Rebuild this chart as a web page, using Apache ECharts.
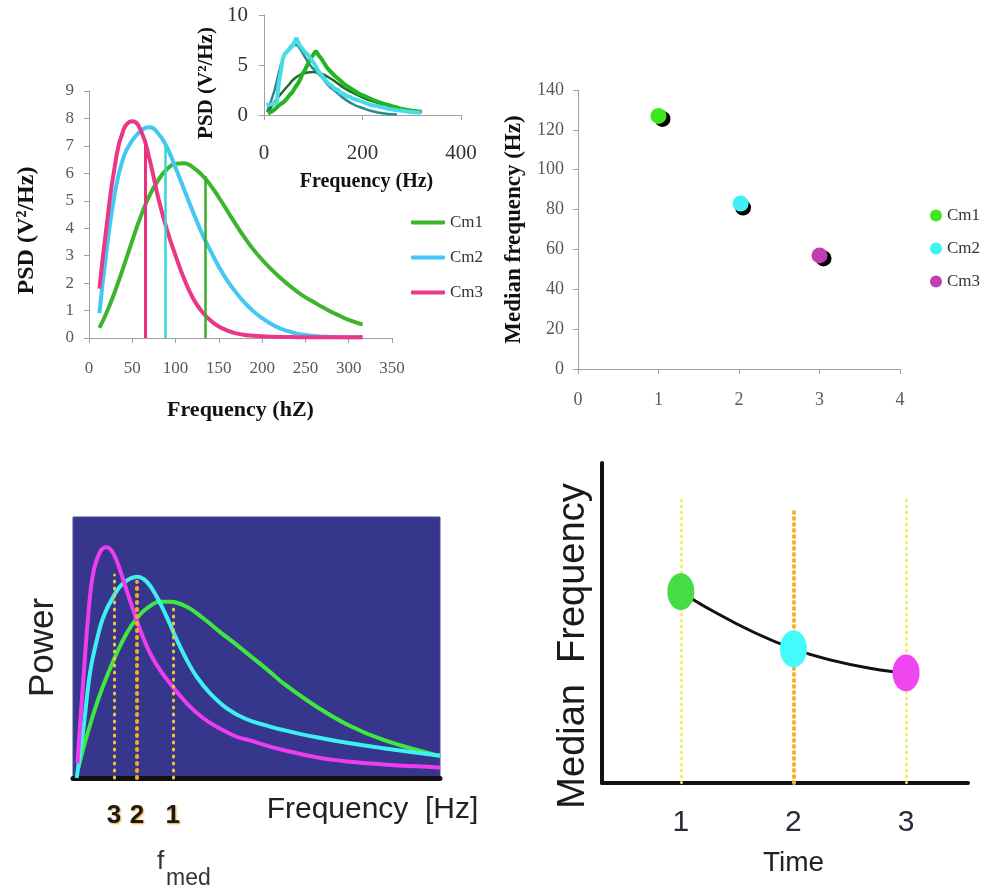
<!DOCTYPE html>
<html><head><meta charset="utf-8">
<script src="https://cdn.jsdelivr.net/npm/echarts@6/dist/echarts.min.js"></script>
<style>html,body{margin:0;padding:0;background:#fff}#c{width:990px;height:892px}</style>
</head><body><div id="c"></div>
<script>
// ---------- Panel A: PSD curves ----------
const freqA = [12,20,30,40,50,60,70,80,90,100,110,120,130,140,150,160,170,180,190,200,210,220,230,240,250,260,270,280,290,300,316];
const psdCm1 = [0.37,0.9,1.7,2.6,3.55,4.45,5.2,5.75,6.15,6.35,6.37,6.22,5.95,5.58,5.12,4.62,4.12,3.65,3.22,2.85,2.52,2.22,1.95,1.7,1.48,1.3,1.12,0.95,0.8,0.66,0.49];
const psdCm2 = [0.9,3.1,5.3,6.6,7.2,7.55,7.68,7.45,6.95,6.2,5.4,4.6,3.85,3.2,2.6,2.08,1.65,1.28,0.97,0.72,0.52,0.36,0.25,0.16,0.11,0.07,0.05,0.04,0.03,0.03,0.03];
const psdCm3 = [1.8,4.0,6.3,7.6,7.9,7.55,6.5,5.1,3.95,3.0,2.15,1.46,0.98,0.65,0.42,0.27,0.17,0.11,0.08,0.06,0.05,0.04,0.04,0.03,0.03,0.03,0.03,0.03,0.03,0.03,0.03];
const namesA = ['Cm1','Cm2','Cm3'];
const medianFreqA = [134.7, 88.4, 64.8];
const medianTopA = [5.9, 7.1, 7.2];

// ---------- Inset: measured vs fitted ----------
const insetCm2Raw = [[5,1.0],[12,1.05],[20,1.1],[26,1.3],[30,3.2],[34,4.3],[38,5.6],[42,6.1],[46,6.2],[50,6.5],[54,6.6],[58,6.9],[62,7.1],[66,7.7],[68,7.5],[72,7.0],[76,6.8],[80,6.5],[85,6.2],[90,6.0],[95,5.6],[100,5.3],[105,4.9],[110,4.4],[115,4.1],[120,3.8],[126,3.4],[132,3.1],[138,2.9],[144,2.6],[150,2.5],[156,2.2],[162,2.1],[168,1.9],[175,1.8],[182,1.6],[190,1.5],[198,1.35],[206,1.2],[214,1.05],[222,0.95],[230,0.9],[238,0.8],[246,0.72],[254,0.6],[262,0.55],[270,0.48],[278,0.45],[286,0.38],[294,0.33],[302,0.3],[310,0.25],[318,0.22]];
const insetCm2Fit = [[6,0.3],[15,1.5],[22,2.6],[30,4.2],[35,5.1],[42,6.0],[50,6.6],[58,7.0],[65,7.0],[72,6.7],[83,5.8],[95,4.9],[105,4.4],[117,3.8],[130,3.0],[150,2.15],[165,1.55],[184,1.0],[200,0.7],[218,0.4],[235,0.22],[252,0.1],[270,0.05]];
const insetCm1Raw = [[8,0.17],[14,0.3],[20,0.5],[28,0.85],[34,1.1],[40,1.3],[46,1.6],[52,2.0],[58,2.3],[64,2.8],[69,3.15],[74,3.6],[78,4.1],[83,4.5],[88,5.0],[93,5.5],[97,5.6],[101,6.1],[105,6.4],[108,6.2],[112,5.9],[117,5.6],[122,5.2],[127,4.8],[132,4.5],[138,4.2],[144,3.9],[150,3.65],[156,3.4],[162,3.1],[170,2.85],[178,2.6],[186,2.35],[194,2.1],[202,1.95],[211,1.75],[220,1.55],[228,1.4],[236,1.25],[244,1.1],[252,1.0],[260,0.88],[268,0.78],[276,0.66],[286,0.56],[294,0.48],[302,0.42],[310,0.37],[320,0.33]];
const insetCm1Fit = [[8,0.3],[20,1.2],[35,2.15],[50,3.0],[62,3.65],[75,4.05],[88,4.25],[100,4.3],[115,4.15],[130,3.8],[147,3.25],[164,2.65],[185,2.1],[205,1.65],[228,1.25],[252,0.9],[280,0.6],[300,0.45],[320,0.33]];

// ---------- Panel B: median frequency scatter ----------
const condB = [1.0, 2.02, 3.0];
const medianB = [127, 83, 57];
const shadowCondB = [1.05, 2.05, 3.05];
const shadowMedianB = [125.5, 81, 55.5];
const namesB = ['Cm1','Cm2','Cm3'];

// ---------- Panel C: schematic power spectra ----------
const specC3 = [[1.2,5.6],[2.8,37.5],[4.2,63],[5.5,78.4],[7.4,86.7],[9.2,88.4],[11,86],[12.8,79.7],[14.6,72],[16.4,64.4],[18.3,56.7],[21,47.8],[23.7,41.4],[26.4,36.3],[31,28.6],[35.5,22.9],[40,19],[44.6,15.8],[48.2,14.4],[53.7,12],[57.3,10.7],[66.4,7.9],[75.5,6.2],[84.6,5.2],[98.6,4.1],[100,4.0]];
const specC2 = [[1,0],[2.8,18.4],[4.6,40],[6.5,52.9],[8.3,61.8],[11,69.5],[13.7,74.6],[17.4,77.1],[20.1,75.2],[22.8,69.5],[25.5,61.8],[28.3,52.9],[31,45.2],[33.7,38.8],[37.3,32.5],[41.9,26.7],[47.3,22.5],[53.7,19.7],[57.3,18.4],[66.4,15.6],[75.5,13.3],[84.6,11.4],[98.6,8.8],[100,8.6]];
const specC1 = [[1.4,3.7],[3.7,15.8],[6.5,28.6],[9.2,38.8],[11.9,47.8],[14.6,55.4],[17.4,61.2],[20.1,65],[23.7,67.5],[26.4,67.5],[31,65.6],[35.5,61.2],[40,56],[44.6,51],[49.1,45.9],[53.7,40.6],[57.3,36.3],[66.4,27.3],[75.5,19.9],[84.6,14.6],[98.6,8.8],[100,8.4]];
const medFreqC = [11.2, 17.4, 27.2];
const medTopC = [77.8, 75.2, 65];
const medLabelC = ['3','2','1'];

// ---------- Panel D: median frequency over time ----------
const timeD = [1, 2, 3];
const medianD = [5.98, 4.19, 3.44];
const guideTopD = [8.94, 8.6, 8.94];

const serif = 'Liberation Serif';
const sans = 'Liberation Sans';
const zip = (xs, ys) => xs.map((x, i) => [x, ys[i]]);

const colA = ['#3cb52d', '#42c8f2', '#ec3687'];
const colAmed = ['#36b02a', '#3ad6d0', '#e8327e'];
const colB = ['#3ee61e', '#3ff0f5', '#c23db0'];
const colC = ['#3ee83e', '#3ef0f0', '#f03cf0'];
const colD = ['#44dd44', '#44fbfb', '#f046f0'];

const grayAxis = {lineStyle: {color: '#a0a0a0', width: 1}};
const grayTick = {show: true, length: 5, lineStyle: {color: '#a0a0a0'}};

const series = [];
// Panel A
[psdCm1, psdCm2, psdCm3].forEach((arr, i) => {
  series.push({
    name: namesA[i], type: 'line', xAxisIndex: 0, yAxisIndex: 0,
    data: zip(freqA, arr), smooth: 0.5, showSymbol: false, symbol: 'none',
    itemStyle: {color: colA[i]}, lineStyle: {color: colA[i], width: 4},
    markLine: {silent: true, symbol: 'none', label: {show: false},
      lineStyle: {color: colAmed[i], width: i === 2 ? 3 : 2.5, type: 'solid'},
      data: [[{coord: [medianFreqA[i], 0]}, {coord: [medianFreqA[i], medianTopA[i]]}]]}
  });
});
// Inset
series.push({name: 'Cm1 fit', type: 'line', xAxisIndex: 1, yAxisIndex: 1, data: insetCm1Fit, smooth: 0.5, symbol: 'none', lineStyle: {color: '#1f6a24', width: 2.5}});
series.push({name: 'Cm2 fit', type: 'line', xAxisIndex: 1, yAxisIndex: 1, data: insetCm2Fit, smooth: 0.5, symbol: 'none', lineStyle: {color: '#2a8a8c', width: 2.5}});
series.push({name: 'Cm1 raw', type: 'line', xAxisIndex: 1, yAxisIndex: 1, data: insetCm1Raw, symbol: 'none', lineStyle: {color: '#22b422', width: 4}});
series.push({name: 'Cm2 raw', type: 'line', xAxisIndex: 1, yAxisIndex: 1, data: insetCm2Raw, symbol: 'none', lineStyle: {color: '#48dce8', width: 4}});
// Panel B
series.push({name: 'shadow', type: 'scatter', xAxisIndex: 2, yAxisIndex: 2, data: zip(shadowCondB, shadowMedianB), symbolSize: 16, itemStyle: {color: '#000', opacity: 1}, z: 2});
namesB.forEach((n, i) => {
  series.push({name: n + '|B', type: 'scatter', xAxisIndex: 2, yAxisIndex: 2, data: [[condB[i], medianB[i]]], symbolSize: 16, itemStyle: {color: colB[i], opacity: 1}, z: 3});
});
// Panel C
[specC1, specC2, specC3].forEach((arr, i) => {
  series.push({name: 'spec' + (i + 1), type: 'line', xAxisIndex: 3, yAxisIndex: 3, data: arr, smooth: 0.4, symbol: 'none', lineStyle: {color: colC[i], width: 4}, z: 2});
});
series.push({name: 'medC', type: 'line', xAxisIndex: 3, yAxisIndex: 3, data: zip(medFreqC, medTopC), symbol: 'none', lineStyle: {opacity: 0}, z: 4,
  markLine: {silent: true, symbol: 'none', label: {show: false},
    data: medFreqC.map((f, i) => [{coord: [f, 0], lineStyle: {color: i === 1 ? '#f2aa2a' : '#f3c63a', width: i === 1 ? 4 : 3, type: [1, 6], cap: 'round'}}, {coord: [f, medTopC[i]]}])}
});
// Panel D
series.push({name: 'trend', type: 'line', xAxisIndex: 4, yAxisIndex: 4, data: zip(timeD, medianD), smooth: true, symbol: 'none', lineStyle: {color: '#111', width: 3}, z: 3,
  markLine: {silent: true, symbol: 'none', label: {show: false},
    data: timeD.map((t, i) => [{coord: [t, 0], lineStyle: {color: i === 1 ? '#f7b02a' : '#f5ec3a', width: i === 1 ? 4 : 2.5, type: [1, 5], cap: 'round'}}, {coord: [t, guideTopD[i]]}])}
});
series.push({name: 'pointsD', type: 'scatter', xAxisIndex: 4, yAxisIndex: 4, z: 5, symbol: 'circle', symbolSize: [27, 37],
  data: timeD.map((t, i) => ({value: [t, medianD[i]], itemStyle: {color: colD[i], opacity: 1}}))});

const option = {
  backgroundColor: '#ffffff',
  animation: false,
  grid: [
    {left: 89, top: 91, width: 303, height: 247},
    {left: 264, top: 15, width: 197, height: 100},
    {left: 578, top: 90, width: 322, height: 279},
    {left: 73, top: 517, width: 367, height: 261, show: true, backgroundColor: '#35368c', borderColor: '#4a4a9a', borderWidth: 1},
    {left: 602, top: 463, width: 366, height: 320}
  ],
  xAxis: [
    {gridIndex: 0, type: 'value', min: 0, max: 350, interval: 50, axisLine: grayAxis, axisTick: grayTick, splitLine: {show: false},
      axisLabel: {fontFamily: serif, fontSize: 17, color: '#595959', margin: 22},
      name: 'Frequency (hZ)', nameLocation: 'middle', nameGap: 61, nameMoveOverlap: false,
      nameTextStyle: {fontFamily: serif, fontWeight: 'bold', fontSize: 22, color: '#111'}},
    {gridIndex: 1, type: 'value', min: 0, max: 400, interval: 200, axisLine: grayAxis, axisTick: grayTick, splitLine: {show: false},
      axisLabel: {fontFamily: serif, fontSize: 21, color: '#333', margin: 28},
      name: 'Frequency (Hz)', nameLocation: 'middle', nameGap: 57, nameMoveOverlap: false,
      nameTextStyle: {fontFamily: serif, fontWeight: 'bold', fontSize: 20, color: '#111', padding: [0, 0, 0, 8]}},
    {gridIndex: 2, type: 'value', min: 0, max: 4, interval: 1, axisLine: grayAxis, axisTick: grayTick, splitLine: {show: false},
      axisLabel: {fontFamily: serif, fontSize: 18, color: '#595959', margin: 22}},
    {gridIndex: 3, type: 'value', min: 0, max: 100, splitLine: {show: false},
      axisLine: {show: true, lineStyle: {color: '#111', width: 5}}, axisTick: {show: false},
      axisLabel: {customValues: medFreqC, margin: 25,
        formatter: v => { const i = medFreqC.findIndex(f => Math.abs(f - v) < 0.01); return i >= 0 ? medLabelC[i] : ''; },
        fontFamily: sans, fontWeight: 'bold', fontSize: 26, color: '#1a1a1a', textShadowColor: '#f0a020', textShadowBlur: 2, textShadowOffsetX: 1, textShadowOffsetY: 1},
      name: 'Frequency  [Hz]', nameLocation: 'middle', nameGap: 17, nameMoveOverlap: false,
      nameTextStyle: {fontFamily: sans, fontSize: 30, color: '#222', padding: [0, 0, 0, 232]}},
    {gridIndex: 4, type: 'value', min: 0.3, max: 3.55, splitLine: {show: false},
      axisLine: {show: true, lineStyle: {color: '#111', width: 4}}, axisTick: {show: false},
      axisLabel: {customValues: timeD, margin: 25, fontFamily: sans, fontSize: 30, color: '#2a2a3a'},
      name: 'Time', nameLocation: 'middle', nameGap: 66, nameMoveOverlap: false,
      nameTextStyle: {fontFamily: sans, fontSize: 28, color: '#222', padding: [0, 0, 0, 17]}}
  ],
  yAxis: [
    {gridIndex: 0, type: 'value', min: 0, max: 9, interval: 1, axisLine: Object.assign({show: true}, grayAxis), axisTick: grayTick, splitLine: {show: false},
      axisLabel: {fontFamily: serif, fontSize: 17, color: '#595959', margin: 15},
      name: 'PSD (V²/Hz)', nameLocation: 'middle', nameRotate: 90, nameGap: 50, nameMoveOverlap: false,
      nameTextStyle: {fontFamily: serif, fontWeight: 'bold', fontSize: 24, color: '#111', padding: [0, 32, 0, 0]}},
    {gridIndex: 1, type: 'value', min: 0, max: 10, interval: 5, axisLine: Object.assign({show: true}, grayAxis), axisTick: grayTick, splitLine: {show: false},
      axisLabel: {fontFamily: serif, fontSize: 21, color: '#333', margin: 16},
      name: 'PSD (V²/Hz)', nameLocation: 'middle', nameRotate: 90, nameGap: 47, nameMoveOverlap: false,
      nameTextStyle: {fontFamily: serif, fontWeight: 'bold', fontSize: 21, color: '#111', padding: [0, 36, 0, 0]}},
    {gridIndex: 2, type: 'value', min: 0, max: 140, interval: 20, axisLine: Object.assign({show: true}, grayAxis), axisTick: grayTick, splitLine: {show: false},
      axisLabel: {fontFamily: serif, fontSize: 18, color: '#595959', margin: 14},
      name: 'Median frequency (Hz)', nameLocation: 'middle', nameRotate: 90, nameGap: 52, nameMoveOverlap: false,
      nameTextStyle: {fontFamily: serif, fontWeight: 'bold', fontSize: 23, color: '#111'}},
    {gridIndex: 3, type: 'value', min: 0, max: 100, axisLine: {show: false}, axisTick: {show: false}, axisLabel: {show: false}, splitLine: {show: false},
      name: 'Power', nameLocation: 'middle', nameRotate: 90, nameGap: 12, nameMoveOverlap: false,
      nameTextStyle: {fontFamily: sans, fontSize: 35, color: '#222'}},
    {gridIndex: 4, type: 'value', min: 0, max: 10, axisLine: {show: true, lineStyle: {color: '#111', width: 4}}, axisTick: {show: false}, axisLabel: {show: false}, splitLine: {show: false},
      name: 'Median  Frequency', nameLocation: 'middle', nameRotate: 90, nameGap: 9, nameMoveOverlap: false,
      nameTextStyle: {fontFamily: sans, fontSize: 38, color: '#1a1a1a', padding: [0, 46, 0, 0]}}
  ],
  legend: [
    {data: namesA, orient: 'vertical', left: 406, top: 209, itemWidth: 34, itemHeight: 4, icon: 'roundRect', itemGap: 18, itemTextGap: 3,
      textStyle: {fontFamily: serif, fontSize: 17, color: '#333'}, selectedMode: false},
    {data: namesB.map(n => n + '|B'), formatter: n => n.split('|')[0], orient: 'vertical', left: 925, top: 202, itemWidth: 12, itemHeight: 12, icon: 'circle', itemGap: 16, itemTextGap: 2,
      textStyle: {fontFamily: serif, fontSize: 17, color: '#333'}, selectedMode: false}
  ],
  graphic: [
    {type: 'text', x: 157, y: 862, style: {text: 'f', fontFamily: sans, fontSize: 26, fill: '#333', verticalAlign: 'middle'}},
    {type: 'text', x: 166, y: 879, style: {text: 'med', fontFamily: sans, fontSize: 23, fill: '#333', verticalAlign: 'middle'}}
  ],
  series: series
};
const chart = echarts.init(document.getElementById('c'), null, {renderer: 'canvas'});
chart.setOption(option);
</script>
</body></html>
